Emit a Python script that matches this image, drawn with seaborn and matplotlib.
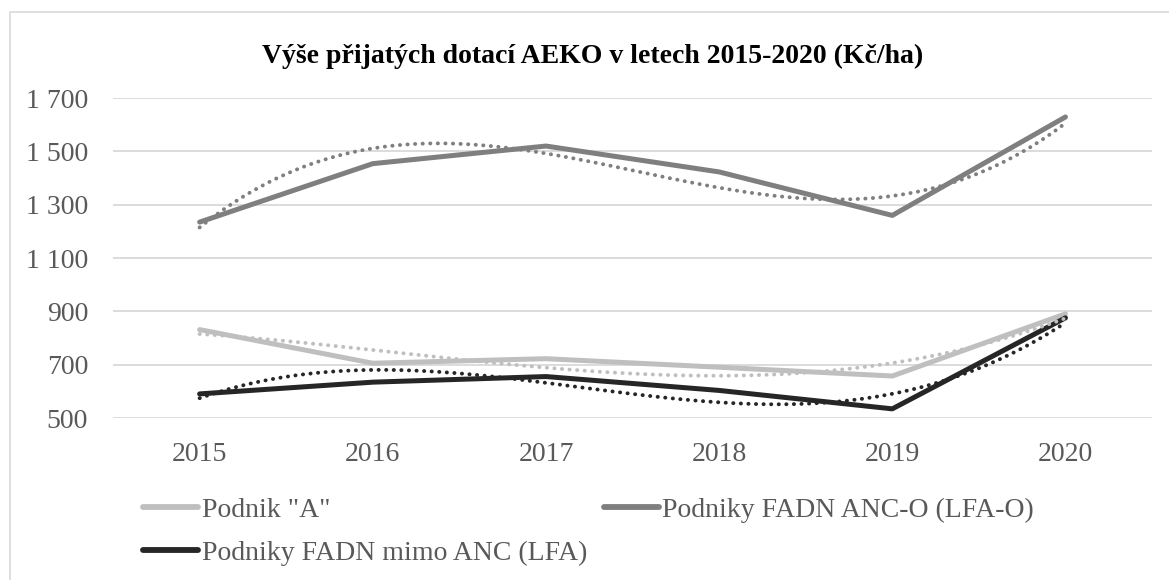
import pandas as pd
import seaborn as sns
import matplotlib.pyplot as plt
from matplotlib.patches import Rectangle
from matplotlib.ticker import FuncFormatter

# values (Kč/ha)
years = [2015, 2016, 2017, 2018, 2019, 2020]
podnik_a = [832, 706, 723, 691, 658, 891]
anc_o = [1235, 1454, 1520, 1423, 1260, 1629]
mimo_anc = [591, 635, 656, 604, 535, 876]

series_names = ['Podnik "A"', 'Podniky FADN ANC-O (LFA-O)', 'Podniky FADN mimo ANC (LFA)']
series_vals = [podnik_a, anc_o, mimo_anc]
colors = ['#bfbfbf', '#7f7f7f', '#262626']

df = pd.DataFrame({
    'rok': years * 3,
    'hodnota': podnik_a + anc_o + mimo_anc,
    'serie': [n for n in series_names for _ in years],
})

sns.set_theme(style='white')
plt.rcParams['font.family'] = ['Liberation Serif', 'DejaVu Serif']

fig = plt.figure(figsize=(11.69, 5.8), dpi=100)
ax = fig.add_axes([0.0967, 0.279, 0.8888, 0.552])

sns.lineplot(data=df, x='rok', y='hodnota', hue='serie', hue_order=series_names,
             palette=colors, linewidth=3.6, ax=ax, legend=False,
             solid_capstyle='round')

# polynomial trend lines (dotted), like the Excel trendlines
for vals, c in zip(series_vals, colors):
    sns.regplot(x=years, y=vals, order=3, ci=None, scatter=False, ax=ax,
                line_kws=dict(color=c, linestyle=(0, (0.05, 1.9)), linewidth=2.8,
                              dash_capstyle='round'))

ax.set_xlim(2014.5, 2020.5)
ax.set_ylim(500, 1700)
ax.set_yticks(range(500, 1701, 200))
ax.set_xticks(years)
ax.yaxis.set_major_formatter(FuncFormatter(lambda v, p: f'{int(v):,}'.replace(',', ' ')))
ax.grid(axis='y', color='#d9d9d9', linewidth=1.3)
ax.grid(axis='x', visible=False)
ax.set_axisbelow(True)
for s in ax.spines.values():
    s.set_visible(False)
ax.tick_params(axis='both', labelsize=20, labelcolor='#595959', length=0)
ax.tick_params(axis='y', pad=18)
ax.tick_params(axis='x', pad=17)
ax.set_xlabel('')
ax.set_ylabel('')

fig.text(0.507, 0.902, 'Výše přijatých dotací AEKO v letech 2015-2020 (Kč/ha)',
         ha='center', va='center', fontsize=20, fontweight='bold', color='black')

handles = [plt.Line2D([], [], color=c, linewidth=4.2, solid_capstyle='round') for c in colors]
order = [0, 2, 1]
fig.legend([handles[i] for i in order], [series_names[i] for i in order],
           loc='upper left', bbox_to_anchor=(0.122, 0.142), ncol=2, frameon=False,
           fontsize=20, handlelength=2.0, handletextpad=0.12, columnspacing=0.6,
           labelspacing=0.62, labelcolor='#595959', borderaxespad=0, borderpad=0)

fig.patches.append(Rectangle((10 / 1169, -0.05), 1.2, 1 - 12 / 580 + 0.05,
                             transform=fig.transFigure, fill=False,
                             edgecolor='#d9d9d9', linewidth=1.2))

fig.savefig('out.png', dpi=100)
